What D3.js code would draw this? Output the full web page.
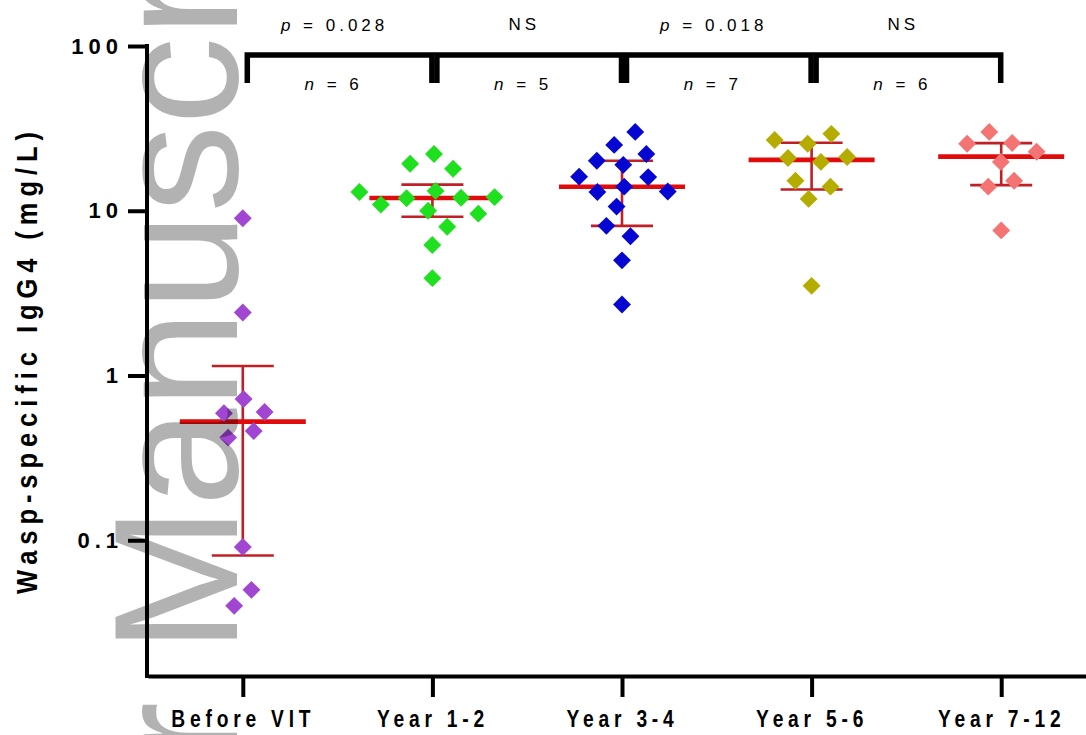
<!DOCTYPE html>
<html>
<head>
<meta charset="utf-8">
<script src="https://cdn.jsdelivr.net/npm/d3@7"></script>
<style>
  body { margin: 0; background: #fff; }
  svg { display: block; font-family: "Liberation Sans", Arial, Helvetica, sans-serif; }
</style>
</head>
<body>
<svg id="chart" width="1086" height="735"></svg>
<script>
"use strict";

// Groups on the x axis
const groups = ["Before VIT", "Year 1-2", "Year 3-4", "Year 5-6", "Year 7-12"];

// Wasp-specific IgG4 (mg/L), one value per patient
const beforeVit = [9.0, 2.41, 0.72, 0.59, 0.6, 0.42, 0.46, 0.091, 0.05, 0.04];
const year1to2 = [22.1, 19.3, 18.0, 13.0, 13.2, 12.0, 11.9, 12.1, 10.9, 9.6, 10.0, 8.0, 6.2, 3.9];
const year3to4 = [30.1, 25.1, 22.1, 19.0, 20.1, 16.1, 16.0, 13.0, 13.1, 14.0, 10.6, 8.1, 7.0, 5.0, 2.7];
const year5to6 = [26.9, 29.3, 25.5, 20.9, 19.8, 21.2, 14.0, 15.2, 11.8, 3.5];
const year7to12 = [30.1, 25.8, 25.5, 22.8, 19.8, 15.2, 14.0, 7.6];
const groupValues = [beforeVit, year1to2, year3to4, year5to6, year7to12];

// y axis
const yTicks = [0.1, 1, 10, 100];
const yTickLabels = ["0.1", "1", "10", "100"];
const yDomain = [0.015, 100];

// comparisons between neighbouring groups
const pLabels = ["p = 0.028", "NS", "p = 0.018", "NS"];
const nLabels = ["n = 6", "n = 5", "n = 7", "n = 6"];

// Specifying color of each group
const COLORS = ["#a046d2", "#1ee01e", "#0606d2", "#b4ad00", "#f47373"];
const MEDIAN_RED = "#e00c0c";
const BAR_RED = "#c01f26";

const width = 1086, height = 735;
const svg = d3.select("#chart");

svg.append("rect").attr("width", width).attr("height", height).attr("fill", "#fff");

const x = d3.scalePoint().domain(groups).range([148, 1096]).padding(0.5);
const y = d3.scaleLog().domain(yDomain).range([676, 46]);

// Prism style quartile ((n + 1) * p)
function quartile(sorted, p) {
  const n = sorted.length;
  const pos = (n + 1) * p;
  const lo = Math.floor(pos);
  if (lo < 1) return sorted[0];
  if (lo >= n) return sorted[n - 1];
  return sorted[lo - 1] + (pos - lo) * (sorted[lo] - sorted[lo - 1]);
}

// y axis
const yAxis = svg.append("g")
  .attr("transform", "translate(147,0)")
  .call(d3.axisLeft(y)
    .tickValues(yTicks)
    .tickFormat((d, i) => yTickLabels[i])
    .tickSize(19)
    .tickSizeOuter(0)
    .tickPadding(5));
yAxis.select(".domain").attr("stroke-width", 4).attr("d", "M0,44V678");
yAxis.selectAll(".tick line").attr("stroke-width", 4);
yAxis.selectAll(".tick text")
  .attr("font-family", "'Liberation Sans', Arial, sans-serif")
  .attr("font-size", 22)
  .attr("font-weight", "bold")
  .attr("letter-spacing", 5)
  .attr("fill", "#000");

// x axis
const xAxis = svg.append("g")
  .attr("transform", "translate(0,676)")
  .call(d3.axisBottom(x).tickSize(21).tickSizeOuter(0).tickPadding(13));
xAxis.select(".domain").attr("stroke-width", 4);
xAxis.selectAll(".tick line").attr("stroke-width", 4);
xAxis.selectAll(".tick text")
  .attr("font-family", "'Liberation Sans', Arial, sans-serif")
  .attr("font-size", 24)
  .attr("font-weight", "bold")
  .attr("letter-spacing", 6)
  .attr("transform", "scale(0.8,1)")
  .attr("fill", "#000");

// y axis title
svg.append("text")
  .attr("transform", "translate(37,360) rotate(-90) scale(0.85,1)")
  .attr("text-anchor", "middle")
  .attr("font-size", 30)
  .attr("font-weight", "bold")
  .attr("letter-spacing", 7)
  .text("Wasp-specific IgG4 (mg/L)");

// comparison brackets
const brackets = svg.append("g");
for (let i = 0; i < groups.length - 1; ++i) {
  const x0 = x(groups[i]) + 4.5;
  const x1 = x(groups[i + 1]) - 0.5;
  const mid = (x(groups[i]) + x(groups[i + 1])) / 2;
  brackets.append("path")
    .attr("d", `M${x0},83V55H${x1}V83`)
    .attr("fill", "none")
    .attr("stroke", "#000")
    .attr("stroke-width", 5.5);

  const label = brackets.append("text")
    .attr("x", mid - 3)
    .attr("y", pLabels[i] === "NS" ? 30 : 31)
    .attr("text-anchor", "middle")
    .attr("font-size", 17)
    .attr("letter-spacing", 4);
  if (pLabels[i].startsWith("p ")) {
    label.append("tspan").attr("font-style", "italic").text("p");
    label.append("tspan").text(pLabels[i].slice(1));
  } else {
    label.text(pLabels[i]);
  }

  const nText = brackets.append("text")
    .attr("x", mid - 4)
    .attr("y", 90)
    .attr("text-anchor", "middle")
    .attr("font-size", 17)
    .attr("letter-spacing", 4);
  nText.append("tspan").attr("font-style", "italic").text("n");
  nText.append("tspan").text(nLabels[i].slice(1));
}

// median and interquartile range
const stats = groupValues.map((vals, gi) => {
  const sorted = vals.slice().sort(d3.ascending);
  return {
    group: groups[gi],
    median: d3.median(sorted),
    q1: quartile(sorted, 0.25),
    q3: quartile(sorted, 0.75)
  };
});

const bars = svg.append("g").selectAll("g").data(stats).join("g")
  .attr("transform", d => `translate(${x(d.group)},0)`);
bars.append("line")
  .attr("y1", d => y(d.q1)).attr("y2", d => y(d.q3))
  .attr("stroke", BAR_RED).attr("stroke-width", 2.6);
bars.selectAll(".cap").data(d => [d.q1, d.q3]).join("line")
  .attr("class", "cap")
  .attr("x1", -31).attr("x2", 31)
  .attr("y1", d => y(d)).attr("y2", d => y(d))
  .attr("stroke", BAR_RED).attr("stroke-width", 2.6);
bars.append("line")
  .attr("x1", -63).attr("x2", 63)
  .attr("y1", d => y(d.median)).attr("y2", d => y(d.median))
  .attr("stroke", MEDIAN_RED).attr("stroke-width", 4.6);

// scatter points, spread sideways so they do not overlap
// (the layout runs with y stretched, so points close in y may sit nearer)
const STRETCH = 1.3;
const nodes = [];
groupValues.forEach((vals, gi) => {
  vals.forEach((v) => {
    nodes.push({ gi: gi, value: v, x: x(groups[gi]), y: y(v) * STRETCH, fy: y(v) * STRETCH });
  });
});
const sim = d3.forceSimulation(nodes)
  .force("x", d3.forceX(d => x(groups[d.gi])).strength(0.12))
  .force("collide", d3.forceCollide(13.5).iterations(4))
  .stop();
for (let i = 0; i < 400; ++i) sim.tick();

svg.append("g").selectAll("path").data(nodes).join("path")
  .attr("d", d3.symbol(d3.symbolSquare, 160))
  .attr("transform", d => `translate(${d.x},${y(d.value)}) rotate(45)`)
  .attr("fill", d => COLORS[d.gi]);

// watermark over the figure
const mark = svg.append("g")
  .attr("transform", "translate(237,653) rotate(-90)")
  .attr("font-size", 176)
  .attr("fill", "#000")
  .attr("fill-opacity", 0.3);
mark.append("text").text("Manuscript");
mark.append("text").attr("x", -49).attr("text-anchor", "end").text("Author");
</script>
</body>
</html>
